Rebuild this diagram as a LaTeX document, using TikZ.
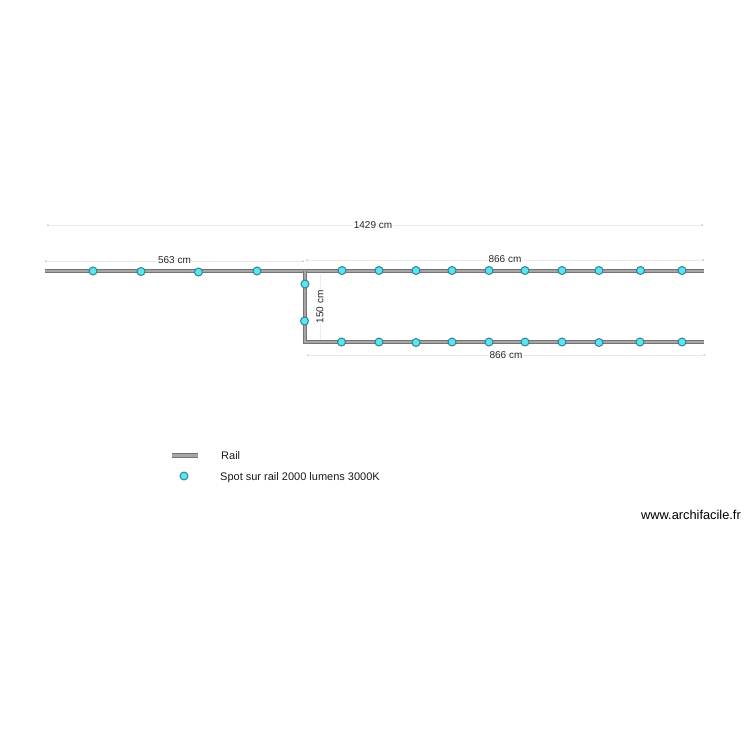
\documentclass[tikz,border=0pt]{standalone}
\usepackage{fontspec}
\setmainfont{Liberation Sans}
\definecolor{spotfill}{HTML}{5FE3F0}
\definecolor{spotedge}{HTML}{2B8796}
\tikzset{
    rail/.style={draw=black!55, line width=1pt, double=black!35, double distance=2.2pt},
    spot/.style={circle, draw=spotedge, fill=spotfill, line width=1pt, minimum size=8pt, inner sep=0pt},
    dimline/.style={draw=black!8, line width=0.6pt},
    dimend/.style={circle, fill=black!40, minimum size=1.5pt, inner sep=0pt},
    dimtext/.style={fill=white, inner sep=0.8pt, font=\fontsize{10}{12}\selectfont, text=black!85},
    legendtext/.style={anchor=west, inner sep=0pt, font=\fontsize{11}{13}\selectfont, text=black!90}
}
\begin{document}
\begin{tikzpicture}[x=1pt, y=-1pt]
        \useasboundingbox (0,0) rectangle (750,750);
        % dimensions
        \node[dimend] (t1) at (48,225) {};
        \node[dimend] (t2) at (702,225) {};
        \node[dimend] (l1) at (46,261) {};
        \node[dimend] (l2) at (303,261) {};
        \node[dimend] (r1) at (307,260) {};
        \node[dimend] (r2) at (703,260) {};
        \node[dimend] (b1) at (308,355) {};
        \node[dimend] (b2) at (704,355) {};
        \coordinate (v1) at (320,274);
        \coordinate (v2) at (320,342);
        \draw[dimline] (t1) -- (t2) node[dimtext, pos=0.497] {1429 cm};
        \draw[dimline] (l1) -- (l2) node[dimtext, midway, yshift=1pt] {563 cm};
        \draw[dimline] (r1) -- (r2) node[dimtext, midway, yshift=1pt] {866 cm};
        \draw[dimline] (b1) -- (b2) node[dimtext, midway] {866 cm};
        \draw[dimline] (v1) -- (v2) node[dimtext, pos=0.47, rotate=90, xshift=-1pt] {150 cm};
        % rails
        \coordinate (a) at (45,271);
        \coordinate (b) at (704,271);
        \coordinate (c) at (305,271);
        \coordinate (d) at (305,342);
        \coordinate (e) at (704,342);
        \draw[rail] (a) -- (b);
        \draw[rail] (c) -- (d) -- (e);
        % spots, left part
        \node[spot] (s1) at (93,271) {};
        \node[spot] (s2) at (141,271.5) {};
        \node[spot] (s3) at (198.5,272) {};
        \node[spot] (s4) at (257,271) {};
        % spots, vertical part
        \node[spot] (s5) at (305,284) {};
        \node[spot] (s6) at (304.5,321) {};
        % spots, upper right
        \node[spot] (u1) at (342,270.5) {};
        \node[spot] (u2) at (379,270.5) {};
        \node[spot] (u3) at (416,270.5) {};
        \node[spot] (u4) at (452,270.5) {};
        \node[spot] (u5) at (489,270.5) {};
        \node[spot] (u6) at (525,270.5) {};
        \node[spot] (u7) at (562,270.5) {};
        \node[spot] (u8) at (599,270.5) {};
        \node[spot] (u9) at (640.5,270.5) {};
        \node[spot] (u10) at (682,270.5) {};
        % spots, lower right
        \node[spot] (w1) at (341.5,342) {};
        \node[spot] (w2) at (379,342) {};
        \node[spot] (w3) at (416,342.5) {};
        \node[spot] (w4) at (452,342) {};
        \node[spot] (w5) at (489,342) {};
        \node[spot] (w6) at (525,342) {};
        \node[spot] (w7) at (562,342) {};
        \node[spot] (w8) at (599,342.5) {};
        \node[spot] (w9) at (640,342) {};
        \node[spot] (w10) at (682,342) {};
        % legend
        \coordinate (k1) at (172,455.5);
        \coordinate (k2) at (198,455.5);
        \draw[rail] (k1) -- (k2);
        \node[legendtext] (railtext) at (221,455.8) {Rail};
        \node[spot] (k3) at (184,476) {};
        \node[legendtext] (spottext) at (220,477.2) {Spot sur rail 2000 lumens 3000K};
        \node[anchor=east, inner sep=0pt, font=\fontsize{12.8}{15}\selectfont] (site) at (741,515) {www.archifacile.fr};
    \end{tikzpicture}
\end{document}
